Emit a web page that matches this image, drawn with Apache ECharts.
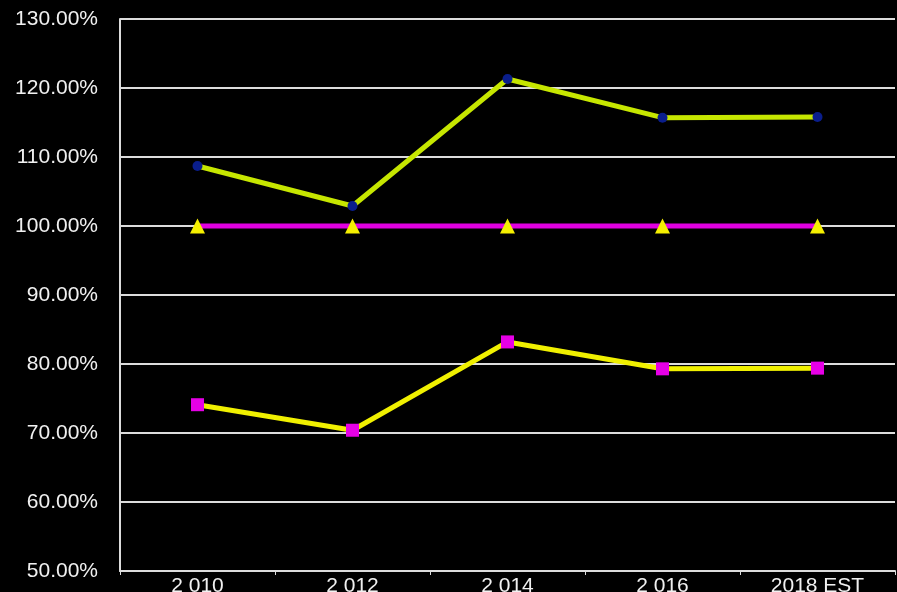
<!DOCTYPE html>
<html><head><meta charset="utf-8">
<style>html,body{margin:0;padding:0;background:#000;}#c{width:897px;height:592px;}</style>
<script src="https://cdn.jsdelivr.net/npm/echarts@6/dist/echarts.min.js"></script>
</head><body><div id="c"></div>
<script>
const categories = ['2 010', '2 012', '2 014', '2 016', '2018 EST'];
const greenSeries = [108.7, 102.9, 121.3, 115.7, 115.8];
const baseSeries = [100, 100, 100, 100, 100];
const yellowSeries = [74.1, 70.4, 83.2, 79.3, 79.4];

const chart = echarts.init(document.getElementById('c'));
chart.setOption({
  backgroundColor: '#000',
  animation: false,
  grid: {left: 120, right: 2, top: 19, bottom: 21, containLabel: false, outerBoundsMode: 'none'},
  xAxis: {
    type: 'category', data: categories, boundaryGap: true,
    axisLine: {lineStyle: {color: '#dcdcdc', width: 2}},
    axisTick: {show: true, length: 4, lineStyle: {color: '#dcdcdc', width: 1}},
    axisLabel: {color: '#f0f0f0', fontFamily: 'Liberation Sans', fontSize: 21, margin: 5}
  },
  yAxis: {
    type: 'value', min: 50, max: 130, interval: 10,
    axisLine: {show: true, lineStyle: {color: '#dcdcdc', width: 2}},
    axisTick: {show: true, inside: true, length: 4, lineStyle: {color: '#dcdcdc', width: 2}},
    splitLine: {show: true, lineStyle: {color: '#dcdcdc', width: 2}},
    axisLabel: {color: '#f0f0f0', fontFamily: 'Liberation Sans', fontSize: 21, margin: 22,
      formatter: v => v.toFixed(2) + '%'}
  },
  series: [
    {type: 'line', data: greenSeries, symbol: 'circle', symbolSize: 10,
     lineStyle: {color: '#c6e600', width: 5}, itemStyle: {color: '#0a1e8c'}, z: 3},
    {type: 'line', data: baseSeries, symbol: 'triangle', symbolSize: 15,
     lineStyle: {color: '#e000e0', width: 5}, itemStyle: {color: '#f5f000'}, z: 2},
    {type: 'line', data: yellowSeries, symbol: 'rect', symbolSize: 13,
     lineStyle: {color: '#f0f000', width: 5}, itemStyle: {color: '#e600e6'}, z: 3}
  ]
});
</script></body></html>
